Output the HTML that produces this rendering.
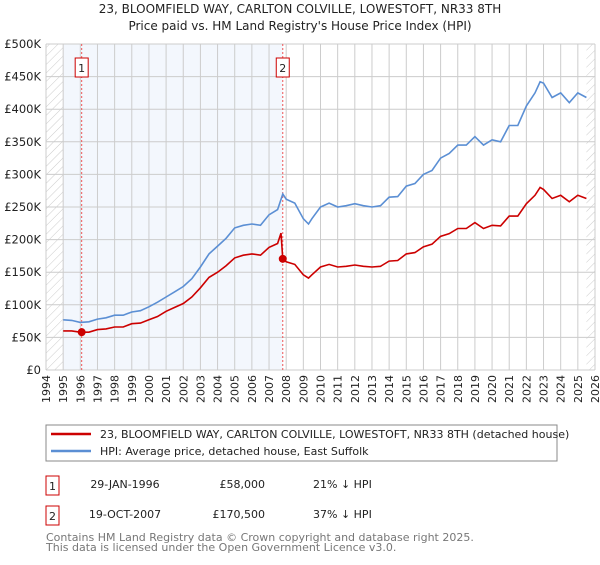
<!DOCTYPE html>
<html><head><meta charset="utf-8"><style>
body{margin:0;background:#fff;font-family:"Liberation Sans","DejaVu Sans",sans-serif;}
svg text{font-family:"DejaVu Sans","Liberation Sans",sans-serif;}
</style></head><body>
<svg id="c" width="600" height="560">
<defs><pattern id="h" width="6" height="6" patternUnits="userSpaceOnUse" patternTransform="rotate(45)"><line x1="0" y1="0" x2="0" y2="6" stroke="#ccc" stroke-width="1"/></pattern></defs>
<text x="300" y="13" text-anchor="middle" font-size="12" fill="#222">23, BLOOMFIELD WAY, CARLTON COLVILLE, LOWESTOFT, NR33 8TH</text>
<text x="300" y="30" text-anchor="middle" font-size="12" fill="#222">Price paid vs. HM Land Registry's House Price Index (HPI)</text>
<g id="plot"></g>
<rect x="46" y="425" width="511" height="36" fill="#fff" stroke="#888"/>
<line x1="51" y1="434" x2="91" y2="434" stroke="#cc0000" stroke-width="2.5"/>
<text x="100" y="438" font-size="11" fill="#222">23, BLOOMFIELD WAY, CARLTON COLVILLE, LOWESTOFT, NR33 8TH (detached house)</text>
<line x1="51" y1="451" x2="91" y2="451" stroke="#5b8fd4" stroke-width="2.5"/>
<text x="100" y="455" font-size="11" fill="#222">HPI: Average price, detached house, East Suffolk</text>
<rect x="46" y="476" width="13" height="19" fill="#fff" stroke="#cc0000"/>
<text x="52.5" y="490" text-anchor="middle" font-size="11" fill="#222">1</text>
<text x="125" y="488" text-anchor="middle" font-size="11" fill="#222">29-JAN-1996</text>
<text x="265" y="488" text-anchor="end" font-size="11" fill="#222">£58,000</text>
<text x="313" y="488" font-size="11" fill="#222">21% ↓ HPI</text>
<rect x="46" y="506" width="13" height="19" fill="#fff" stroke="#cc0000"/>
<text x="52.5" y="520" text-anchor="middle" font-size="11" fill="#222">2</text>
<text x="125" y="518" text-anchor="middle" font-size="11" fill="#222">19-OCT-2007</text>
<text x="265" y="518" text-anchor="end" font-size="11" fill="#222">£170,500</text>
<text x="313" y="518" font-size="11" fill="#222">37% ↓ HPI</text>
<text x="46" y="541" font-size="11" fill="#777">Contains HM Land Registry data © Crown copyright and database right 2025.</text>
<text x="46" y="551" font-size="11" fill="#777">This data is licensed under the Open Government Licence v3.0.</text>
</svg>
<script>
const hpiYears=[1995,1995.5,1996,1996.5,1997,1997.5,1998,1998.5,1999,1999.5,2000,2000.5,2001,2001.5,2002,2002.5,2003,2003.5,2004,2004.5,2005,2005.5,2006,2006.5,2007,2007.5,2007.8,2008,2008.5,2009,2009.3,2009.5,2010,2010.5,2011,2011.5,2012,2012.5,2013,2013.5,2014,2014.5,2015,2015.5,2016,2016.5,2017,2017.5,2018,2018.5,2019,2019.5,2020,2020.5,2021,2021.5,2022,2022.5,2022.8,2023,2023.5,2024,2024.5,2025,2025.5];
const hpiValues=[77,76,73,74,78,80,84,84,89,91,97,104,112,120,128,140,158,178,190,202,218,222,224,222,238,246,270,262,256,232,224,232,250,256,250,252,255,252,250,252,265,266,282,286,300,306,325,332,345,345,358,345,353,350,375,375,405,425,442,440,418,425,410,425,418];
const priceYears=[1995,1995.5,1996,1996.5,1997,1997.5,1998,1998.5,1999,1999.5,2000,2000.5,2001,2001.5,2002,2002.5,2003,2003.5,2004,2004.5,2005,2005.5,2006,2006.5,2007,2007.5,2007.7,2007.8,2008,2008.5,2009,2009.3,2009.5,2010,2010.5,2011,2011.5,2012,2012.5,2013,2013.5,2014,2014.5,2015,2015.5,2016,2016.5,2017,2017.5,2018,2018.5,2019,2019.5,2020,2020.5,2021,2021.5,2022,2022.5,2022.8,2023,2023.5,2024,2024.5,2025,2025.5];
const priceValues=[60,60,58,58,62,63,66,66,71,72,77,82,90,96,102,112,126,142,150,160,172,176,178,176,188,194,210,170,166,162,146,141,146,158,162,158,159,161,159,158,159,167,168,178,180,189,193,205,209,217,217,226,217,222,221,236,236,255,268,280,277,263,268,258,268,263];
const saleYears=[1996.08,2007.8];
const saleValues=[58,170.5];
const saleLabels=["1","2"];
const yTicks=[0,50,100,150,200,250,300,350,400,450,500];
const yTickLabels=["£0","£50K","£100K","£150K","£200K","£250K","£300K","£350K","£400K","£450K","£500K"];
const xTickYears=[1994,1995,1996,1997,1998,1999,2000,2001,2002,2003,2004,2005,2006,2007,2008,2009,2010,2011,2012,2013,2014,2015,2016,2017,2018,2019,2020,2021,2022,2023,2024,2025,2026];

const X0=46,X1=595,Y0=370,Y1=44;
const x=y=>X0+(y-1994)*(X1-X0)/32;
const yv=v=>Y0-v*(Y0-Y1)/500;
const NS="http://www.w3.org/2000/svg";
const g=document.getElementById('plot');
function mk(t,a){const e=document.createElementNS(NS,t);for(const k in a)e.setAttribute(k,a[k]);g.appendChild(e);return e;}
let e;
e=mk('rect',{x:x(1995),y:Y1,width:x(2007.8)-x(1995),height:Y0-Y1,fill:'#eef3fc',opacity:0.7});


e=mk('rect',{x:X0,y:Y1,width:x(1995)-X0,height:Y0-Y1,fill:'url(#h)'});


e=mk('rect',{x:x(2025.5),y:Y1,width:X1-x(2025.5),height:Y0-Y1,fill:'url(#h)'});


xTickYears.forEach((yr,i)=>{
  e=mk('line',{x1:x(yr),x2:x(yr),y1:Y1,y2:Y0,stroke:'#ccc','stroke-width':1});
  
  
  const t=mk('text',{x:0,y:0,'font-size':11,fill:'#222','text-anchor':'end',transform:`translate(${x(yr)+4},${Y0+5}) rotate(-90)`});
  t.textContent=yr;
  
  
});
yTicks.forEach((v,i)=>{
  e=mk('line',{x1:X0,x2:X1,y1:yv(v),y2:yv(v),stroke:'#ccc','stroke-width':1});
  
  
  const t=mk('text',{x:X0-5,y:yv(v)+4,'font-size':11.5,fill:'#222','text-anchor':'end'});
  t.textContent=yTickLabels[i];
  
  
});
saleYears.forEach((yr,i)=>{
  e=mk('line',{x1:x(yr),x2:x(yr),y1:Y1,y2:Y0,stroke:'#ee5555','stroke-width':1,'stroke-dasharray':'2,2'});
  
  
  e=mk('rect',{x:x(yr)-6.5,y:58,width:13,height:19,fill:'#fff',stroke:'#cc0000'});
  
  
  const t=mk('text',{x:x(yr),y:72,'font-size':11,fill:'#222','text-anchor':'middle'});
  t.textContent=saleLabels[i];
});
function line(xs,vs,col,name){
  const d=xs.map((yr,i)=>(i?'L':'M')+x(yr).toFixed(1)+','+yv(vs[i]).toFixed(1)).join('');
  const p=mk('path',{d:d,fill:'none',stroke:col,'stroke-width':1.6});
  
  
}
line(hpiYears,hpiValues,'#5b8fd4','hpi-line');
line(priceYears,priceValues,'#cc0000','price-line');
saleYears.forEach((yr,i)=>{
  e=mk('circle',{cx:x(yr),cy:yv(saleValues[i]),r:4,fill:'#cc0000'});
  
  
});
</script>
</body></html>
